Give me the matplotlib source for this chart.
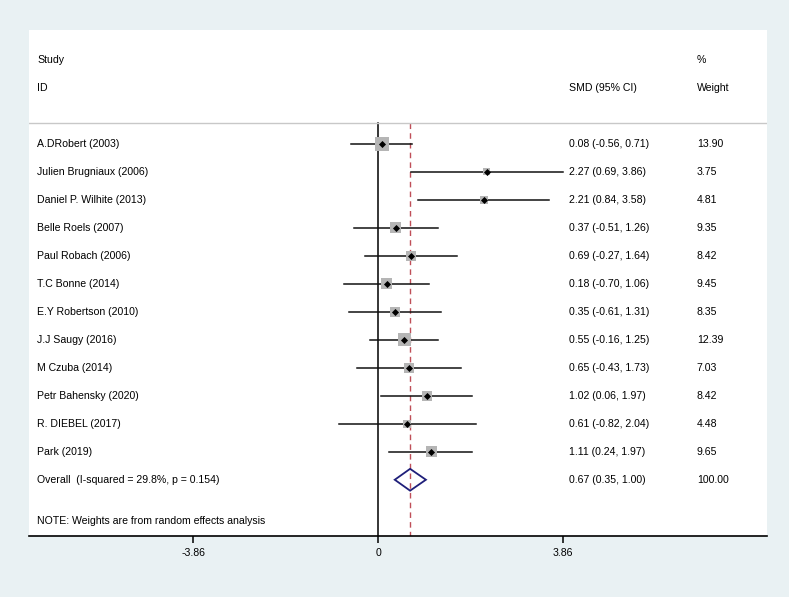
import numpy as np
import matplotlib.pyplot as plt
from matplotlib.transforms import blended_transform_factory

plt.rcParams['font.family'] = ['Liberation Sans', 'DejaVu Sans']

studies = ["A.DRobert (2003)", "Julien Brugniaux (2006)", "Daniel P. Wilhite (2013)",
           "Belle Roels (2007)", "Paul Robach (2006)", "T.C Bonne (2014)",
           "E.Y Robertson (2010)", "J.J Saugy (2016)", "M Czuba (2014)",
           "Petr Bahensky (2020)", "R. DIEBEL (2017)", "Park (2019)"]
smd = [0.08, 2.27, 2.21, 0.37, 0.69, 0.18, 0.35, 0.55, 0.65, 1.02, 0.61, 1.11]
lo = [-0.56, 0.69, 0.84, -0.51, -0.27, -0.70, -0.61, -0.16, -0.43, 0.06, -0.82, 0.24]
hi = [0.71, 3.86, 3.58, 1.26, 1.64, 1.06, 1.31, 1.25, 1.73, 1.97, 2.04, 1.97]
weights = [13.90, 3.75, 4.81, 9.35, 8.42, 9.45, 8.35, 12.39, 7.03, 8.42, 4.48, 9.65]

overall = 0.67
overall_lo, overall_hi = 0.35, 1.00
overall_label = "Overall  (I-squared = 29.8%, p = 0.154)"
xticks = [-3.86, 0, 3.86]

bg = '#e9f1f3'
fig = plt.figure(figsize=(7.89, 5.97), dpi=100, facecolor=bg)
ax = fig.add_axes([29 / 789, 1 - 536 / 597, 738 / 789, 506 / 597])
ax.set_facecolor('white')

# x: SMD units, y: row index (inverted)
ax.set_xlim(-7.286, 8.121)
ax.set_ylim(14.04, -4.04)

n = len(studies)
rows = np.arange(n) + 0.03
fs = 7.6
tr = blended_transform_factory(ax.transAxes, ax.transData)
c1, c2, c3 = 0.0108, 0.7317, 0.905

# reference lines
ax.plot([0, 0], [-0.71, 14.04], color='black', lw=1.1, zorder=2)
ax.plot([overall, overall], [-0.71, 14.04], color='#bf4f58', lw=1.0,
        dashes=(4, 3), zorder=2)
ax.plot([0, 1], [-0.71, -0.71], transform=tr, color='#c8c8c8', lw=1.0)

# study estimates
for i in range(n):
    ax.plot([lo[i], hi[i]], [rows[i], rows[i]], color='#111111', lw=1.1, zorder=3)
sizes = (13.5 * np.sqrt(np.array(weights) / 13.90) * 0.72) ** 2
ax.scatter(smd, rows, s=sizes, marker='s', color='#b5b5b5', zorder=4, linewidths=0)
ax.scatter(smd, rows, s=13, marker='D', color='black', zorder=5, linewidths=0)

# overall diamond
yo = n + 0.03
h = 0.39
ax.fill([overall_lo, overall, overall_hi, overall],
        [yo, yo - h, yo, yo + h], facecolor='none', edgecolor='#1f1f7a', lw=1.3, zorder=4)

# text columns
ax.text(c1, -2.96, "Study", transform=tr, fontsize=fs, va='center')
ax.text(c1, -1.96, "ID", transform=tr, fontsize=fs, va='center')
ax.text(c2, -1.96, "SMD (95% CI)", transform=tr, fontsize=fs, va='center')
ax.text(c3, -2.96, "%", transform=tr, fontsize=fs, va='center')
ax.text(c3, -1.96, "Weight", transform=tr, fontsize=fs, va='center')

for i in range(n):
    ax.text(c1, rows[i], studies[i], transform=tr, fontsize=fs, va='center')
    ax.text(c2, rows[i], f"{smd[i]:.2f} ({lo[i]:.2f}, {hi[i]:.2f})",
            transform=tr, fontsize=fs, va='center')
    ax.text(c3, rows[i], f"{weights[i]:.2f}", transform=tr, fontsize=fs, va='center')

ax.text(c1, yo, overall_label, transform=tr, fontsize=fs, va='center')
ax.text(c2, yo, f"{overall:.2f} ({overall_lo:.2f}, {overall_hi:.2f})",
        transform=tr, fontsize=fs, va='center')
ax.text(c3, yo, "100.00", transform=tr, fontsize=fs, va='center')
ax.text(c1, 13.5, "NOTE: Weights are from random effects analysis",
        transform=tr, fontsize=fs, va='center')

# axis
for side in ['top', 'left', 'right']:
    ax.spines[side].set_visible(False)
ax.spines['bottom'].set_linewidth(1.2)
ax.set_yticks([])
ax.set_xticks(xticks)
ax.set_xticklabels(["-3.86", "0", "3.86"], fontsize=fs)
ax.tick_params(axis='x', length=5, width=1.1, pad=4)

fig.savefig('out.png', dpi=100, facecolor=bg)
